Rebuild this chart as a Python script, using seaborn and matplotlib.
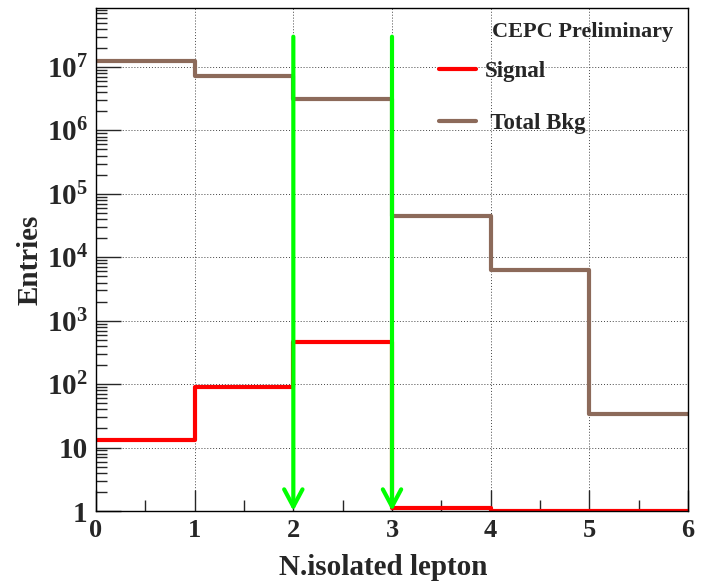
import numpy as np
import pandas as pd
import matplotlib
matplotlib.use("Agg")
import matplotlib.pyplot as plt
import seaborn as sns
from matplotlib.lines import Line2D
from matplotlib.ticker import FixedLocator, FuncFormatter, NullFormatter

# ---- data ----
bin_edges = [0, 1, 2, 3, 4, 5, 6]
signal = [13, 89, 456, 1.1, 1.0, 1.0]
total_bkg = [1.23e7, 7.2e6, 3.1e6, 4.4e4, 6.2e3, 34]
cut_positions = [2, 3]
arrow_top = 3e7
series_names = ["Signal", " Total Bkg"]
x_label = "N.isolated lepton"
y_label = "Entries"
tag_text = "CEPC Preliminary"
y_decades = [0, 1, 2, 3, 4, 5, 6, 7]

sig_color = "#ff0000"
bkg_color = "#8c6a5a"
cut_color = "#00ff00"

sns.set_style("ticks")
plt.rcParams["font.family"] = ["Liberation Serif", "DejaVu Serif"]
plt.rcParams["font.weight"] = "bold"
plt.rcParams["mathtext.fontset"] = "custom"
plt.rcParams["mathtext.rm"] = "Liberation Serif:bold"
plt.rcParams["mathtext.bf"] = "Liberation Serif:bold"
plt.rcParams["mathtext.it"] = "Liberation Serif:bold"

fig = plt.figure(figsize=(7.02, 5.84), dpi=100)
ax = fig.add_axes([96/702, 1-511/584, (688-96)/702, (511-8)/584])

centers = [(bin_edges[i] + bin_edges[i+1]) / 2 for i in range(len(bin_edges)-1)]
df = pd.DataFrame({"x": centers, "sig": signal, "bkg": total_bkg})

sns.histplot(data=df, x="x", weights="bkg", bins=bin_edges, element="step",
             fill=False, color=bkg_color, linewidth=3, ax=ax)
sns.histplot(data=df, x="x", weights="sig", bins=bin_edges, element="step",
             fill=False, color=sig_color, linewidth=3, ax=ax)

ax.set_yscale("log")
ax.set_xlim(0, 6)
ax.set_ylim(1, 8.5e7)

for xc in cut_positions:
    ax.annotate("", xy=(xc, 1), xytext=(xc, arrow_top),
                arrowprops=dict(arrowstyle="->,head_length=0.62,head_width=0.33",
                                color=cut_color, lw=3, shrinkA=0, shrinkB=0,
                                mutation_scale=20), zorder=5)

ax.xaxis.set_major_locator(FixedLocator(bin_edges))
ax.xaxis.set_minor_locator(FixedLocator([0.5, 1.5, 2.5, 3.5, 4.5, 5.5]))
major_y = [10.0 ** d for d in y_decades]
minor_y = [m * 10.0 ** d for d in y_decades for m in range(2, 10) if m * 10.0 ** d < 8.5e7]
ax.yaxis.set_major_locator(FixedLocator(major_y))
ax.yaxis.set_minor_locator(FixedLocator(minor_y))
ax.yaxis.set_minor_formatter(NullFormatter())

def yfmt(v, pos):
    n = int(round(np.log10(v)))
    if n == 0:
        return "1"
    if n == 1:
        return "10"
    return r"$\mathbf{10^{%d}}$" % n
ax.yaxis.set_major_formatter(FuncFormatter(yfmt))

ax.tick_params(axis="x", which="major", direction="in", length=15, width=1,
               labelsize=19, pad=6, top=False)
ax.tick_params(axis="y", which="major", direction="in", length=18, width=1,
               labelsize=21, pad=6, right=False)
ax.tick_params(axis="both", which="minor", direction="in", length=8, width=1,
               top=False, right=False)
for lab in ax.get_xticklabels() + ax.get_yticklabels():
    lab.set_fontweight("bold")

ax.grid(which="major", linestyle=(0, (1, 2)), color="#444444", linewidth=0.7)
ax.set_axisbelow(True)
for s in ax.spines.values():
    s.set_linewidth(1)
    s.set_color("black")
    s.set_visible(True)

ax.set_xlabel(x_label, fontsize=21, fontweight="bold", labelpad=8)
ax.xaxis.set_label_coords(0.486, -0.085)
ax.set_ylabel(y_label, fontsize=21, fontweight="bold", labelpad=2)

ax.text(0.822, 0.973, tag_text, transform=ax.transAxes, ha="center", va="top",
        fontsize=16, fontweight="bold")

handles = [Line2D([], [], color=sig_color, lw=3),
           Line2D([], [], color=bkg_color, lw=3)]
leg = ax.legend(handles, series_names, loc="upper left",
                bbox_to_anchor=(0.560, 0.917), frameon=False,
                prop={"size": 16.5, "weight": "bold"}, handlelength=1.6,
                handletextpad=0.4, labelspacing=1.35, borderpad=0)

fig.savefig("out.png", dpi=100)
